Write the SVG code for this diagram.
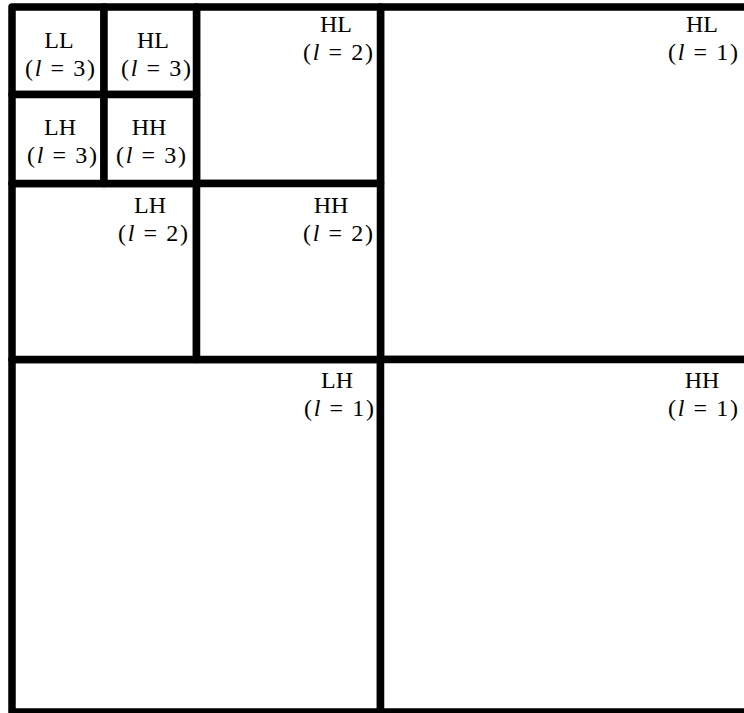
<svg xmlns="http://www.w3.org/2000/svg" width="744" height="713" viewBox="0 0 744 713">
<style>
.b{fill:#fff;stroke:#000;stroke-width:7.5;stroke-linejoin:round}
.t{font-family:"Liberation Serif","Times New Roman",serif;font-size:24px;fill:#000;text-anchor:middle}
.i{font-style:italic}
</style>
<rect x="0" y="0" width="744" height="713" fill="#fff"/>
<g id="HL1"><rect class="b" x="380.5" y="7" width="372" height="352.5"/>
<text class="t" x="702" y="32">HL</text><text class="t" x="703" y="60" textLength="70" lengthAdjust="spacing">(<tspan class="i">l</tspan> = 1)</text></g>
<g id="LH1"><rect class="b" x="12" y="359.5" width="368.5" height="352.5"/>
<text class="t" x="337" y="388">LH</text><text class="t" x="339" y="416" textLength="70" lengthAdjust="spacing">(<tspan class="i">l</tspan> = 1)</text></g>
<g id="HH1"><rect class="b" x="380.5" y="359.5" width="372" height="352.5"/>
<text class="t" x="702" y="388">HH</text><text class="t" x="703" y="416" textLength="70" lengthAdjust="spacing">(<tspan class="i">l</tspan> = 1)</text></g>
<g id="HL2"><rect class="b" x="196.5" y="7" width="184" height="176.5"/>
<text class="t" x="336" y="32">HL</text><text class="t" x="338" y="60" textLength="70" lengthAdjust="spacing">(<tspan class="i">l</tspan> = 2)</text></g>
<g id="LH2"><rect class="b" x="12" y="183.5" width="184.5" height="176"/>
<text class="t" x="150" y="213">LH</text><text class="t" x="153" y="241" textLength="70" lengthAdjust="spacing">(<tspan class="i">l</tspan> = 2)</text></g>
<g id="HH2"><rect class="b" x="196.5" y="183.5" width="184" height="176"/>
<text class="t" x="331" y="213">HH</text><text class="t" x="338" y="241" textLength="70" lengthAdjust="spacing">(<tspan class="i">l</tspan> = 2)</text></g>
<g id="LL3"><rect class="b" x="12" y="7" width="92" height="87.5"/>
<text class="t" x="59" y="48">LL</text><text class="t" x="60" y="76" textLength="70" lengthAdjust="spacing">(<tspan class="i">l</tspan> = 3)</text></g>
<g id="HL3"><rect class="b" x="104" y="7" width="92.5" height="87.5"/>
<text class="t" x="153" y="48">HL</text><text class="t" x="156" y="76" textLength="70" lengthAdjust="spacing">(<tspan class="i">l</tspan> = 3)</text></g>
<g id="LH3"><rect class="b" x="12" y="94.5" width="92" height="89"/>
<text class="t" x="60" y="135">LH</text><text class="t" x="62" y="163" textLength="70" lengthAdjust="spacing">(<tspan class="i">l</tspan> = 3)</text></g>
<g id="HH3"><rect class="b" x="104" y="94.5" width="92.5" height="89"/>
<text class="t" x="149" y="135">HH</text><text class="t" x="151" y="163" textLength="70" lengthAdjust="spacing">(<tspan class="i">l</tspan> = 3)</text></g>
<g id="connectors"></g>
</svg>
